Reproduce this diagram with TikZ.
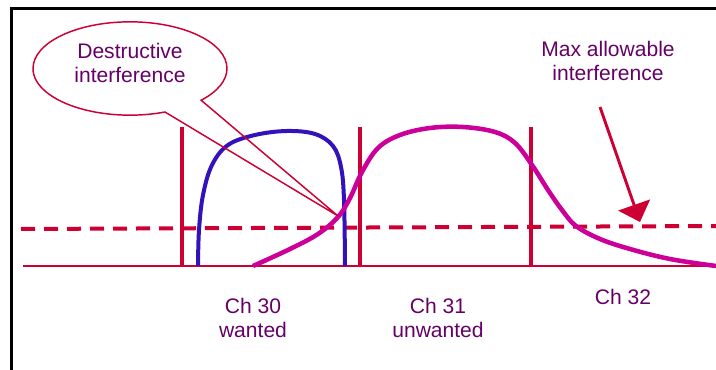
\documentclass[tikz,border=0pt]{standalone}
\usepackage{fontspec}
\setmainfont{Liberation Sans}
\usetikzlibrary{shapes.callouts,arrows.meta}
\definecolor{chred}{RGB}{204,0,51}
\definecolor{chblue}{RGB}{51,17,187}
\definecolor{chmag}{RGB}{204,0,153}
\definecolor{chtext}{RGB}{102,0,102}

\begin{document}
\begin{tikzpicture}[
	x=0.75pt, y=-0.75pt,
	chlabel/.style={ text=chtext, align=center, font=\fontsize{15.8}{18}\selectfont, inner sep=0pt },
	axis/.style={ chred, line width=1.5pt },
	chedge/.style={ chred, line width=3pt },
	limit/.style={ chred, line width=3pt, dash pattern=on 10.5pt off 6.75pt },
	wanted/.style={ chblue, line width=3pt },
	unwanted/.style={ chmag, line width=3.4pt },
	bubble/.style={ ellipse callout, draw=chred, line width=1.1pt, minimum width=145.5pt, minimum height=70pt, callout pointer arc=26 }
]
\useasboundingbox (0,0) rectangle (716,370);

% frame
\draw[line width=2.25pt] (11.5,370) -- (11.5,8.5) -- (716,8.5);

% frequency axis and channel edges
\coordinate (o) at (23,266);
\coordinate (far) at (716,266);
\draw[axis] (o) -- (far);
\foreach \n/\x in {e30/182,e31/360,e32/531} {
	\coordinate (\n top) at (\x,127);
	\coordinate (\n bot) at (\x,266);
	\draw[chedge] (\n top) -- (\n bot);
}

% max allowable level
\coordinate (lima) at (21,229);
\coordinate (limb) at (716,226);
\draw[limit] (lima) -- (limb);

% spectra
\draw[wanted] plot[smooth, tension=0.6] coordinates {(198,266) (199,230) (203,195) (212,165) (228,145) (255,135) (287,131) (315,134) (333,146) (341,167) (344,200) (345,266)};
\draw[unwanted] plot[smooth, tension=0.6] coordinates {(253,266) (290,249) (318,234) (338,217) (350,198) (362,172) (378,148) (400,135) (430,128) (463,127) (495,132) (515,143) (532,165) (548,190) (562,210) (576,226) (600,239) (630,249) (670,259) (716,266)};

% labels
\node at (253,318) (ch30) [chlabel] {Ch 30\\wanted};
\node at (438,318) (ch31) [chlabel] {Ch 31\\unwanted};
\node at (623,297) (ch32) [chlabel] {Ch 32};
\node at (608,61) (maxlbl) [chlabel] {Max allowable\\interference};

\coordinate (maxtail) at (600,107);
\coordinate (maxtip) at (640,222);
\draw[chred, line width=2.2pt, -{Triangle[length=13.5pt,width=25pt]}] (maxtail) -- (maxtip);

% callout
\coordinate (clash) at (338,216);
\node at (130,68.5) (bubble) [bubble, callout absolute pointer={(clash)}] {};
\node at (130,63) (destr) [chlabel] {Destructive\\interference};

\end{tikzpicture}
\end{document}
